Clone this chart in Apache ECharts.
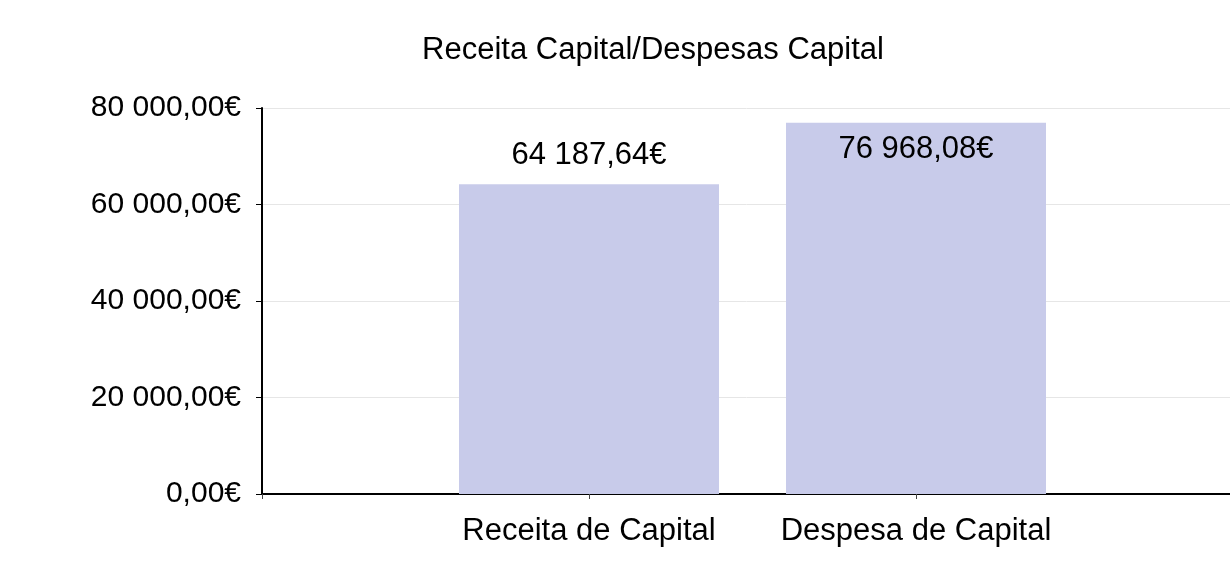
<!DOCTYPE html>
<html>
<head>
<meta charset="utf-8">
<script src="https://cdn.jsdelivr.net/npm/echarts@6/dist/echarts.min.js"></script>
<style>html,body{margin:0;padding:0;background:#fff}#c{width:1230px;height:565px}</style>
</head>
<body>
<div id="c"></div>
<script>
var title = "Receita Capital/Despesas Capital";
var categories = ["Receita de Capital", "Despesa de Capital"];
var values = [64187.64, 76968.08];
var yTicks = [0, 20000, 40000, 60000, 80000];

function fmt(v) {
  var parts = Number(v).toFixed(2).split(".");
  var intPart = parts[0].replace(/\B(?=(\d{3})+(?!\d))/g, " ");
  return intPart + "," + parts[1] + "€";
}

// pad with empty slots at both ends so the bars sit on the interior ticks
var axisCats = [""].concat(categories, [""]);
var seriesData = [null].concat(values.map(function (v, i) {
  return {
    value: v,
    label: i === values.length - 1 ? { position: "insideTop", distance: 11 } : { position: "top", distance: 13 }
  };
}), [null]);

var font = "'Liberation Sans', Arial, sans-serif";
var chart = echarts.init(document.getElementById("c"), null, { renderer: "canvas" });
chart.setOption({
  animation: false,
  backgroundColor: "#ffffff",
  title: {
    text: title,
    left: 648, top: 30, textAlign: "center",
    textStyle: { fontFamily: font, fontSize: 31, fontWeight: "normal", color: "#000" }
  },
  grid: { left: 262, top: 108, height: 386, width: 981, containLabel: false, outerBoundsMode: "none" },
  xAxis: {
    type: "category",
    data: axisCats,
    boundaryGap: false,
    axisLine: { lineStyle: { color: "#000", width: 2 } },
    axisTick: { show: true, length: 5, lineStyle: { color: "#444" } },
    axisLabel: { fontFamily: font, fontSize: 31, color: "#000", margin: 22, interval: 0 },
    splitLine: { show: false }
  },
  yAxis: {
    type: "value",
    min: yTicks[0], max: yTicks[yTicks.length - 1], interval: yTicks[1] - yTicks[0],
    axisLine: { show: true, lineStyle: { color: "#000", width: 2 } },
    axisTick: { show: true, length: 6, lineStyle: { color: "#000" } },
    axisLabel: { fontFamily: font, fontSize: 30, color: "#000", margin: 21, formatter: fmt },
    splitLine: { lineStyle: { color: "#e6e6e6", width: 1 } }
  },
  series: [{
    type: "bar",
    data: seriesData,
    barWidth: 260,
    itemStyle: { color: "#c8cbea" },
    label: { show: true, fontFamily: font, fontSize: 31, color: "#000", formatter: function (p) { return fmt(p.value); } }
  }]
});
</script>
</body>
</html>
